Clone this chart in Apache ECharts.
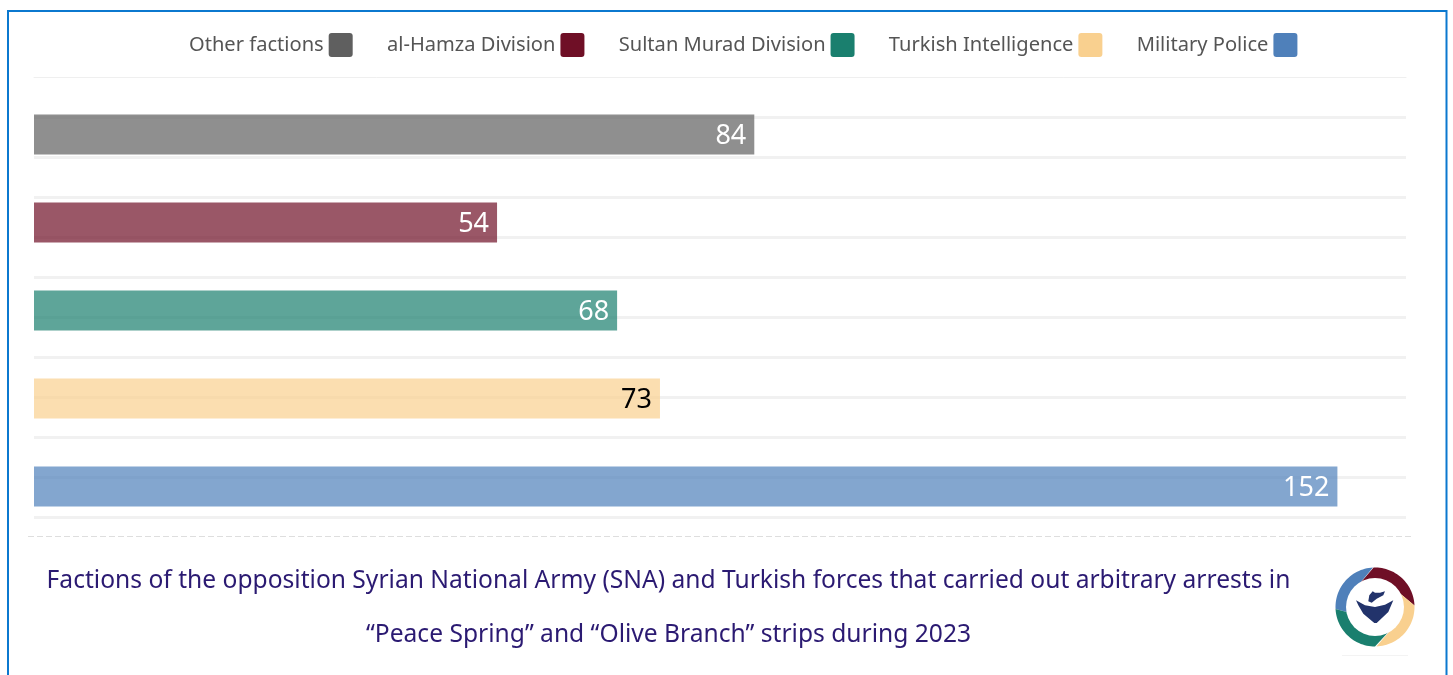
<!DOCTYPE html>
<html>
<head>
<meta charset="utf-8">
<title>Arbitrary arrests 2023</title>
<style>
html, body { margin: 0; padding: 0; background: #fff; overflow: hidden; }
#main { width: 1453px; height: 675px; }
</style>
<script src="https://cdn.jsdelivr.net/npm/echarts@6/dist/echarts.min.js"></script>
</head>
<body>
<div id="main"></div>
<script>
var factions = ['Other factions', 'al-Hamza Division', 'Sultan Murad Division', 'Turkish Intelligence', 'Military Police']
var arrests = [84, 54, 68, 73, 152]
var colors = ['#5f5f5f', '#6f0f26', '#1a7f6e', '#f9d08f', '#4f80ba']
var labelColors = ['#fff', '#fff', '#fff', '#000', '#fff']
var titleLines = [
    'Factions of the opposition Syrian National Army (SNA) and Turkish forces that carried out arbitrary arrests in',
    '\u201cPeace Spring\u201d and \u201cOlive Branch\u201d strips during 2023'
]

var fontName = '"Noto Sans", sans-serif'
var myChart = echarts.init(document.getElementById('main'), null, { renderer: 'canvas' })

// one series per faction so the legend gets an entry for each
var seriesData = []
for (var i = 0; i < factions.length; i++) {
    var values = []
    for (var j = 0; j < factions.length; j++) {
        values.push(i === j ? arrests[j] : null)
    }
    seriesData.push({
        name: factions[i],
        type: 'bar',
        stack: 'all',
        barWidth: 40,
        xAxisIndex: 0,
        yAxisIndex: 0,
        itemStyle: { color: colors[i], opacity: 0.7 },
        label: {
            show: true,
            position: 'insideRight',
            distance: 8,
            offset: [0, 2],
            opacity: 1,
            color: labelColors[i],
            fontFamily: fontName,
            fontSize: 27
        },
        data: values
    })
}

// logo, plain decoration: graphic has no path type so the swirl pieces are polygons
var logoX = 1375
var logoY = 607
function swirlPiece(color, a0, a1, b0, b1) {
    var pts = []
    for (var a = a0; a <= a1; a += 3) {
        pts.push([logoX + 39.5 * Math.cos(a * Math.PI / 180), logoY + 39.5 * Math.sin(a * Math.PI / 180)])
    }
    pts.push([logoX + 27 * Math.cos(b1 * Math.PI / 180), logoY + 27 * Math.sin(b1 * Math.PI / 180)])
    pts.push([logoX + 27 * Math.cos(b0 * Math.PI / 180), logoY + 27 * Math.sin(b0 * Math.PI / 180)])
    return { type: 'polygon', shape: { points: pts }, style: { fill: color } }
}
function logo() {
    return [
        swirlPiece(colors[4], -183, -92, -192, -146),
        swirlPiece(colors[1], -92, -2, -146, -40),
        swirlPiece(colors[3], -2, 90, -40, 38),
        swirlPiece(colors[2], 90, 177, 38, 168),
        { type: 'circle', shape: { cx: logoX, cy: logoY, r: 29 }, style: { fill: '#fff' } },
        { type: 'polygon', shape: { points: [[1356, 600.3], [1365, 605.3], [1375, 607], [1385, 604.7], [1393.3, 600.3], [1388.3, 612], [1376.7, 623], [1374.3, 623], [1363.3, 613.7], [1358.3, 605.3]] }, style: { fill: '#22336b' } },
        { type: 'polygon', shape: { points: [[1369.3, 595.3], [1372.7, 591.3], [1375, 592.7], [1380, 592.7], [1385, 591.3], [1383.3, 595.3], [1376.7, 598.7], [1371.7, 602.7], [1368.3, 601.3]] }, style: { fill: '#22336b' } }
    ]
}

var option = {
    animation: false,
    backgroundColor: '#fff',
    legend: {
        left: 189,
        top: 33,
        padding: 0,
        align: 'right',
        itemWidth: 24,
        itemHeight: 24,
        itemGap: 34.3,
        icon: 'path://M3 0H21A3 3 0 0 1 24 3V21A3 3 0 0 1 21 24H3A3 3 0 0 1 0 21V3A3 3 0 0 1 3 0Z',
        itemStyle: { opacity: 1 },
        textStyle: { fontFamily: fontName, fontSize: 20.1, color: '#555' },
        data: factions
    },
    title: {
        text: titleLines.join('\n'),
        left: 668.5,
        top: 554,
        padding: 0,
        textAlign: 'center',
        textStyle: {
            fontFamily: fontName,
            fontSize: 24.6,
            fontWeight: 'normal',
            lineHeight: 54,
            color: '#2b1a72'
        }
    },
    grid: [
        { left: 34, width: 1372, top: 90.5, height: 440 },
        { left: 34, width: 1372, top: 77, height: 440 }
    ],
    xAxis: [
        {
            type: 'value', gridIndex: 0, min: 0, max: 160,
            axisLine: { show: false }, axisTick: { show: false },
            axisLabel: { show: false }, splitLine: { show: false }
        },
        {
            type: 'value', gridIndex: 1, position: 'top', min: 0, max: 160,
            axisLine: { show: true, onZero: false, lineStyle: { color: '#efefef', width: 1 } },
            axisTick: { show: false }, axisLabel: { show: false }, splitLine: { show: false }
        }
    ],
    yAxis: [
        {
            type: 'category', gridIndex: 0, data: factions, inverse: true,
            axisLine: { show: false }, axisTick: { show: false }, axisLabel: { show: false }
        },
        {
            // only here for the pale rules behind the bars
            type: 'value', gridIndex: 1, min: 0, max: 11, interval: 1,
            axisLine: { show: false }, axisTick: { show: false }, axisLabel: { show: false },
            splitLine: { show: true, showMaxLine: false, lineStyle: { color: '#f1f1f1', width: 3 } }
        }
    ],
    graphic: {
        elements: [
            { type: 'rect', silent: true, shape: { x: 8, y: 11, width: 1438.5, height: 700 }, style: { fill: 'none', stroke: '#0b78cf', lineWidth: 2 } },
            { type: 'line', silent: true, shape: { x1: 28, y1: 536.5, x2: 1411, y2: 536.5 }, style: { stroke: '#dedede', lineWidth: 1, lineDash: [6, 3] } },
            { type: 'line', silent: true, shape: { x1: 1342, y1: 655.5, x2: 1408, y2: 655.5 }, style: { stroke: '#f3f3f3', lineWidth: 1 } },
            { type: 'group', silent: true, children: logo() }
        ]
    },
    series: seriesData
}
myChart.setOption(option)
</script>
</body>
</html>
